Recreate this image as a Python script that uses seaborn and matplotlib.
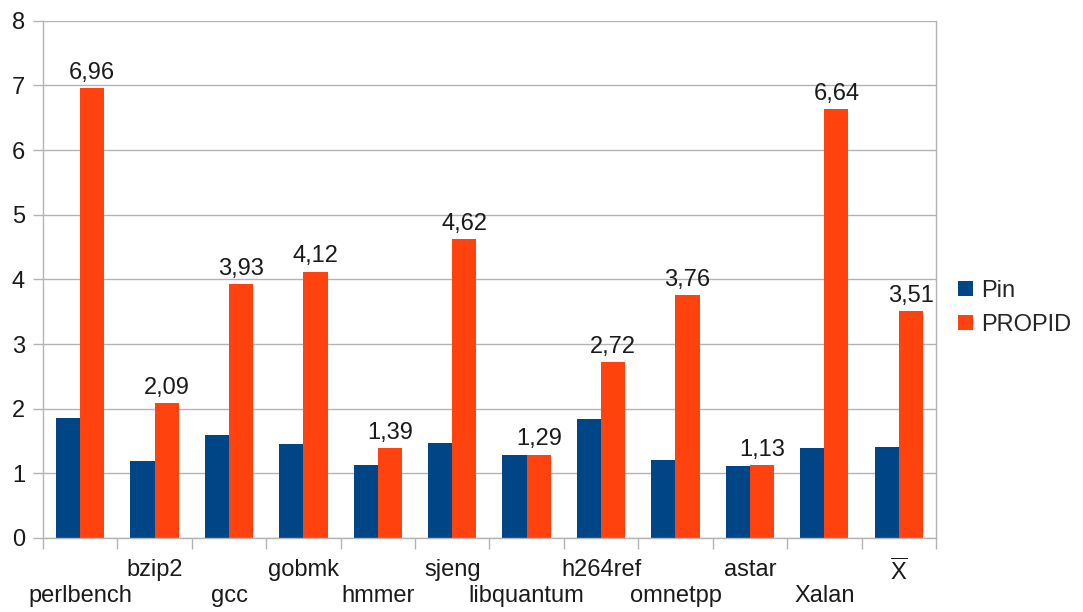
import numpy as np
import pandas as pd
import matplotlib
matplotlib.use('Agg')
import matplotlib.pyplot as plt
import seaborn as sns

# dane
benchmarks = ['perlbench', 'bzip2', 'gcc', 'gobmk', 'hmmer', 'sjeng',
              'libquantum', 'h264ref', 'omnetpp', 'astar', 'Xalan', r'$\overline{\mathrm{X}}$']
pin = [1.85, 1.19, 1.59, 1.45, 1.13, 1.47, 1.29, 1.84, 1.20, 1.11, 1.39, 1.41]
propid = [6.96, 2.09, 3.93, 4.12, 1.39, 4.62, 1.29, 2.72, 3.76, 1.13, 6.64, 3.51]
series = ['Pin', 'PROPID']
colors = ['#004586', '#ff420e']

df = pd.DataFrame({
    'bench': benchmarks * 2,
    'value': pin + propid,
    'tool': ['Pin'] * len(pin) + ['PROPID'] * len(propid),
})

sns.set_theme(style='whitegrid')
plt.rcParams['font.family'] = ['Liberation Sans', 'DejaVu Sans']
plt.rcParams['mathtext.fontset'] = 'custom'
plt.rcParams['mathtext.rm'] = 'Liberation Sans'

fs = 17
txt = '#1a1a1a'

fig = plt.figure(figsize=(10.83, 6.12), dpi=100)
ax = fig.add_axes([0.0397, 0.121, 0.8245, 0.845])

sns.barplot(data=df, x='bench', y='value', hue='tool', order=benchmarks,
            hue_order=series, palette=colors, saturation=1, width=0.65,
            linewidth=0, ax=ax)

# etykiety nad slupkami PROPID
ax.bar_label(ax.containers[1], labels=[f'{v:.2f}'.replace('.', ',') for v in propid],
             padding=3, fontsize=fs, color=txt)

ax.set_ylim(0, 8)
ax.set_xlim(-0.5, len(benchmarks) - 0.5)
ax.set_yticks(range(0, 9))
ax.set_xlabel('')
ax.set_ylabel('')
ax.grid(axis='y', color='#b3b3b3', linewidth=1)
ax.grid(axis='x', visible=False)

# etykiety osi X na przemian w dwoch rzedach
ax.set_xticks(range(len(benchmarks)))
ax.set_xticklabels(benchmarks, fontsize=fs, color=txt, va='top')
ax.set_xticks(np.arange(-0.5, len(benchmarks)), minor=True)
ax.tick_params(axis='x', which='major', length=0, pad=15)
ax.tick_params(axis='x', which='minor', length=8, width=1, color='#b3b3b3', bottom=True)
ax.tick_params(axis='y', length=7, width=1, color='#b3b3b3', labelsize=fs,
               labelcolor=txt, left=True, pad=6)
for i, tick in enumerate(ax.xaxis.get_major_ticks()):
    tick.set_pad(34 if i % 2 == 0 else 15)

for s in ['left', 'right', 'bottom']:
    ax.spines[s].set_color('#b3b3b3')
    ax.spines[s].set_linewidth(1)
ax.spines['top'].set_visible(False)

ax.legend(loc='center left', bbox_to_anchor=(0.885, 0.497), bbox_transform=fig.transFigure,
          frameon=False, fontsize=fs, handlelength=0.62, handleheight=0.62,
          handletextpad=0.35, labelspacing=0.5, borderpad=0, borderaxespad=0)

fig.savefig('out.png', dpi=100)
